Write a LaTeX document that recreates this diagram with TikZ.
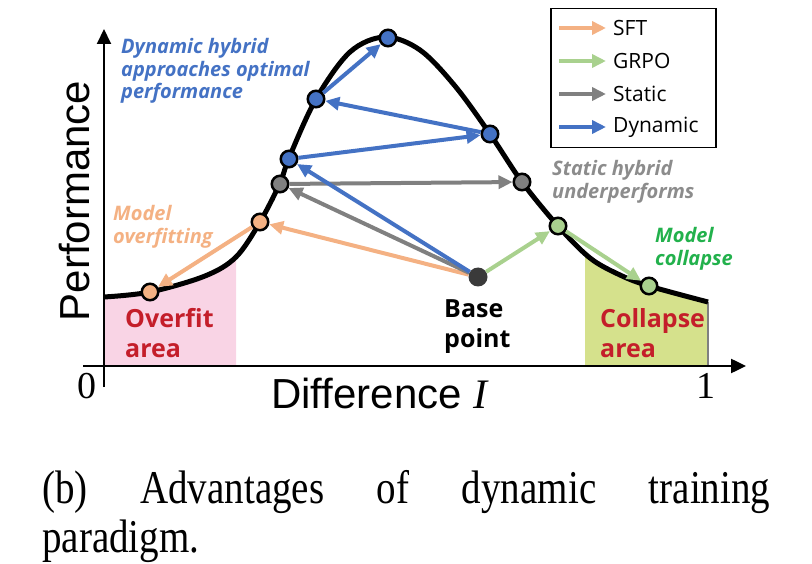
\documentclass[tikz,border=0pt]{standalone}
\usepackage{fontspec}
\setmainfont{Liberation Serif}
\newfontfamily\labf{Open Sans}
\newfontfamily\axf{Liberation Sans}
\newfontfamily\capf[FakeStretch=0.83]{Liberation Serif}
\usetikzlibrary{arrows.meta}
\definecolor{cOr}{HTML}{F4B183}
\definecolor{cGr}{HTML}{A9D18E}
\definecolor{cGy}{HTML}{808080}
\definecolor{cBl}{HTML}{4472C4}
\definecolor{cBase}{HTML}{3A3A3A}
\definecolor{cPink}{HTML}{F9D4E5}
\definecolor{cLime}{HTML}{D5E18C}
\definecolor{cRed}{HTML}{C41E2A}
\definecolor{cGrTxt}{HTML}{22B14C}
\definecolor{cGyTxt}{HTML}{8C8C8C}
\tikzset{
  dot/.style={circle, draw=black, line width=2.5pt, minimum size=16.5pt, inner sep=0pt, fill=#1},
  arr/.style={draw=#1, line width=4pt, -{Triangle[length=14pt,width=13pt]}},
  lab/.style={anchor=west, align=left, inner sep=0pt, font=\labf\bfseries\itshape\fontsize{20}{22.5}\selectfont, text=#1},
  area/.style={anchor=west, align=left, inner sep=0pt, font=\labf\bfseries\fontsize{25}{30}\selectfont, text=#1},
  legtxt/.style={anchor=west, inner sep=0pt, font=\labf\fontsize{21}{24}\selectfont},
  axis/.style={line width=#1, -{Triangle[length=15pt,width=14pt]}}
}
\begin{document}
\begin{tikzpicture}[x=1pt,y=-1pt]
\useasboundingbox (0,0) rectangle (812,564);
% shaded areas
\begin{scope}
\clip (104,0) rectangle (236,366);
\fill[cPink] plot[smooth,tension=0.55] coordinates{(104,297) (150,292) (205,276) (236,257) (260,222) (280,183) (289,158) (316,99) (350,52) (385,37) (420,50) (455,86) (490,134) (522,182) (558,226) (590,258) (620,275) (649,286) (708,302)} -- (708,366) -- (104,366) -- cycle;
\end{scope}
\begin{scope}
\clip (585,0) rectangle (708,366);
\fill[cLime] plot[smooth,tension=0.55] coordinates{(104,297) (150,292) (205,276) (236,257) (260,222) (280,183) (289,158) (316,99) (350,52) (385,37) (420,50) (455,86) (490,134) (522,182) (558,226) (590,258) (620,275) (649,286) (708,302)} -- (708,366) -- (104,366) -- cycle;
\end{scope}
% axes
\coordinate (xs) at (83,366);
\coordinate (xe) at (746,366);
\coordinate (ys) at (104,387);
\coordinate (ye) at (104,29);
\coordinate (gt) at (708,302);
\coordinate (gb) at (708,366);
\draw[cGy, line width=2pt] (gt) -- (gb);
\draw[axis=2.5pt] (xs) -- (xe);
\draw[axis=2pt] (ys) -- (ye);
% curve
\draw[line width=5pt] plot[smooth,tension=0.55] coordinates{(104,297) (150,292) (205,276) (236,257) (260,222) (280,183) (289,158) (316,99) (350,52) (385,37) (420,50) (455,86) (490,134) (522,182) (558,226) (590,258) (620,275) (649,286) (708,302)};
% points
\node[dot=cOr] (o1) at (150,292) {};
\node[dot=cOr] (o2) at (260,222) {};
\node[dot=cGy] (g1) at (280,184) {};
\node[dot=cBl] (b1) at (289,159) {};
\node[dot=cBl] (b2) at (316,99) {};
\node[dot=cBl] (b3) at (388,38) {};
\node[dot=cBl] (b4) at (490,134) {};
\node[dot=cGy] (g2) at (522,182) {};
\node[dot=cGr] (n1) at (558,226) {};
\node[dot=cGr] (n2) at (649,286) {};
\node[circle, fill=cBase, minimum size=19pt, inner sep=0pt] (base) at (478,277) {};
% arrows
\draw[arr=cOr] (base) -- (o2);
\draw[arr=cOr] (o2) -- (o1);
\draw[arr=cGy] (base) -- (g1);
\draw[arr=cGy] (g1) -- (g2);
\draw[arr=cBl] (base) -- (b1);
\draw[arr=cBl] (b1) -- (b4);
\draw[arr=cBl] (b4) -- (b2);
\draw[arr=cBl] (b2) -- (b3);
\draw[arr=cGr] (base) -- (n1);
\draw[arr=cGr] (n1) -- (n2);
% labels
\node[lab=cBl] (tdyn) at (121,71) {Dynamic hybrid\\approaches optimal\\performance};
\node[lab=cGyTxt] (tsta) at (552,182) {Static hybrid\\underperforms};
\node[lab=cOr] (tovf) at (113,227) {Model\\overfitting};
\node[lab=cGrTxt] (tcol) at (655,249) {Model\\collapse};
\node[area=cRed] (aovf) at (125,333) {Overfit\\area};
\node[area=cRed] (acol) at (600,333) {Collapse\\area};
\node[area=black] (tbase) at (444,327) {Base\\point};
% axis labels
\node[anchor=base, inner sep=0pt, font=\fontsize{38}{38}\selectfont] (zero) at (87,399) {0};
\node[anchor=base, inner sep=0pt, font=\fontsize{38}{38}\selectfont] (one) at (706,399) {1};
\node[anchor=base west, inner sep=0pt, font=\axf\fontsize{42}{42}\selectfont] (xlab) at (271,408) {Difference {\rmfamily\itshape I}};
\node[anchor=base, rotate=90, inner sep=0pt, font=\axf\fontsize{42}{42}\selectfont] (ylab) at (89,201) {Performance};
% legend
\node[draw, line width=1.5pt, minimum width=165pt, minimum height=139pt, anchor=north west, inner sep=0pt] (leg) at (550,8) {};
\coordinate (l1a) at (559,28); \coordinate (l1b) at (606,28);
\coordinate (l2a) at (559,61); \coordinate (l2b) at (606,61);
\coordinate (l3a) at (559,94); \coordinate (l3b) at (606,94);
\coordinate (l4a) at (559,127); \coordinate (l4b) at (606,127);
\draw[arr=cOr] (l1a) -- (l1b);
\draw[arr=cGr] (l2a) -- (l2b);
\draw[arr=cGy] (l3a) -- (l3b);
\draw[arr=cBl] (l4a) -- (l4b);
\node[legtxt] (s1) at (613,28) {SFT};
\node[legtxt] (s2) at (613,61) {GRPO};
\node[legtxt] (s3) at (613,94) {Static};
\node[legtxt] (s4) at (613,127) {Dynamic};
% caption
\node[anchor=base west, inner sep=0pt, font=\capf\fontsize{47}{49}\selectfont] (cap1) at (42,503) {\makebox[728pt][s]{(b) Advantages of dynamic training}};
\node[anchor=base west, inner sep=0pt, font=\capf\fontsize{47}{49}\selectfont] (cap2) at (42,552) {paradigm.};
\end{tikzpicture}
\end{document}
